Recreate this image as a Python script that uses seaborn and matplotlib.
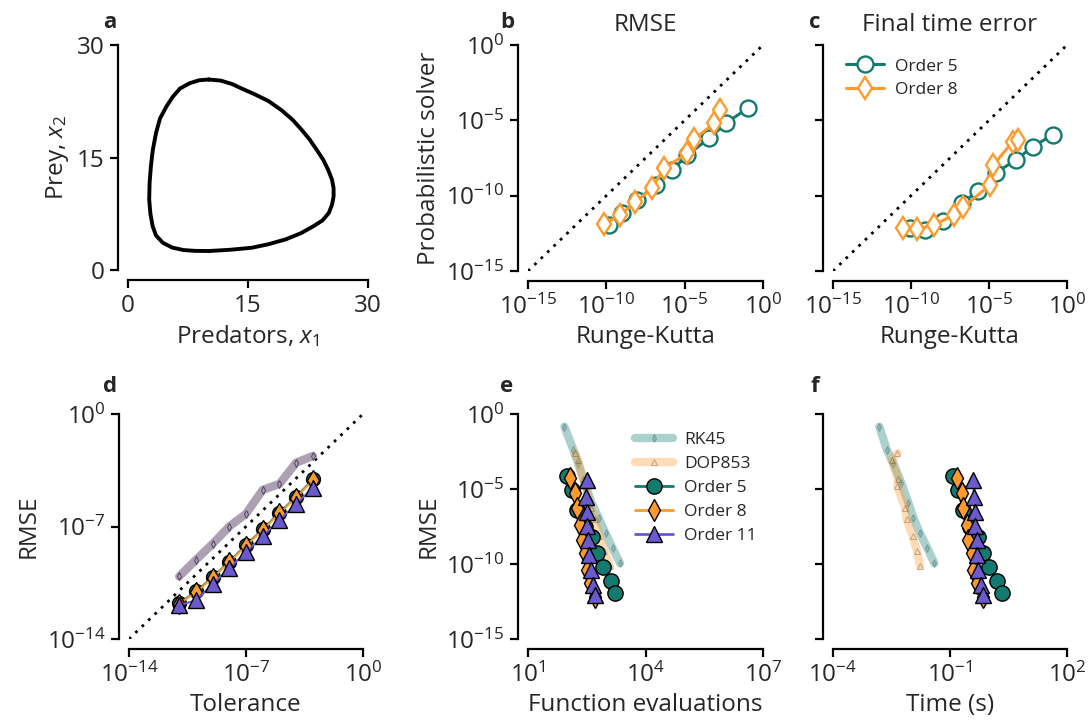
import numpy as np
import matplotlib
matplotlib.use("Agg")
import matplotlib.pyplot as plt
import seaborn as sns

sns.set_style("ticks")
plt.rcParams['font.family'] = ['Open Sans', 'DejaVu Sans']
plt.rcParams['mathtext.fontset'] = 'custom'
plt.rcParams['mathtext.rm'] = 'Open Sans'
plt.rcParams['mathtext.it'] = 'Open Sans:italic'

TEAL = "#137a70"
ORANGE = "#ff9a2e"
PURPLE = "#6a5acd"
MAUVE = "#a090a6"

# panel a: predator-prey orbit
orbit_x = [10.1, 11.6, 13.0, 14.2, 15.9, 17.6, 19.2, 20.6, 21.7, 22.7, 23.6, 24.4, 25.0, 25.5,
           25.7, 25.7, 25.5, 25.1, 24.3, 23.2, 21.6, 19.7, 17.6, 15.5, 12.8, 10.1, 8.4, 6.92,
           5.5, 4.36, 3.5, 3.08, 2.8, 2.65, 2.7, 2.86, 3.1, 3.5, 4.0, 4.8, 5.6, 6.5, 7.7, 8.9, 10.1]
orbit_y = [25.4, 25.25, 24.8, 24.2, 23.4, 22.5, 21.3, 20.0, 18.7, 17.4, 16.0, 14.7, 13.4, 12.05,
           10.9, 9.8, 8.7, 7.6, 6.6, 5.85, 4.9, 4.08, 3.45, 2.97, 2.7, 2.53, 2.55, 2.66,
           3.0, 3.63, 4.6, 5.85, 7.5, 9.4, 11.6, 13.8, 16.0, 18.25, 20.2, 21.8, 23.1, 24.2, 24.9, 25.3, 25.4]

# panel b: RMSE, Runge-Kutta vs probabilistic solver (log10 values)
b_o5_x = [-9.85, -9.0, -8.03, -6.86, -5.79, -4.83, -3.44, -2.37, -0.98]
b_o5_y = [-11.94, -11.17, -10.29, -9.29, -8.29, -7.3, -6.19, -5.19, -4.2]
b_o8_x = [-10.17, -9.1, -8.14, -7.07, -6.33, -4.83, -4.4, -3.12, -2.74]
b_o8_y = [-11.88, -11.28, -10.4, -9.51, -8.18, -7.19, -6.26, -5.2, -4.31]

# panel c: final time error (log10 values)
c_o5_x = [-10.06, -9.1, -7.97, -6.75, -5.68, -4.55, -3.27, -2.2, -0.92]
c_o5_y = [-12.16, -12.28, -11.68, -10.5, -9.67, -8.47, -7.63, -6.75, -5.97]
c_o8_x = [-10.53, -9.6, -8.53, -7.24, -6.65, -4.94, -4.72, -3.48, -3.12]
c_o8_y = [-12.16, -12.23, -11.94, -11.28, -10.77, -9.29, -7.96, -6.42, -6.3]

# panel d: RMSE vs tolerance (log10 values)
tolerance = [-11, -10, -9, -8, -7, -6, -5, -4, -3]
d_rk_y = [-10.11, -9.08, -8.08, -7.0, -6.21, -4.72, -4.35, -3.03, -2.61]
d_o5_y = [-11.77, -11.04, -10.15, -9.18, -8.14, -7.17, -6.13, -5.14, -4.06]
d_o8_y = [-11.8, -11.1, -10.2, -9.22, -8.2, -7.22, -6.18, -5.2, -4.12]
d_o11_y = [-11.9, -11.6, -10.6, -9.6, -8.6, -7.6, -6.6, -5.6, -4.6]

# panels e/f: work-precision (log10 values)
rk45_rmse = [-0.85, -2.4, -3.3, -4.6, -5.9, -6.9, -7.95, -8.95, -9.95]
rk45_nfev = [1.93, 2.16, 2.28, 2.45, 2.62, 2.8, 2.98, 3.16, 3.35]
rk45_time = [-2.81, -2.62, -2.45, -2.25, -2.07, -1.94, -1.77, -1.58, -1.40]
dop_rmse = [-2.62, -3.07, -4.35, -4.8, -6.29, -7.02, -8.13, -9.11, -10.13]
dop_nfev = [2.2, 2.28, 2.4, 2.47, 2.6, 2.7, 2.82, 2.95, 3.09]
dop_time = [-2.35, -2.5, -2.33, -2.35, -2.15, -2.11, -1.96, -1.85, -1.77]
o5_rmse = [-4.13, -5.07, -6.4, -7.51, -8.18, -9.29, -10.18, -11.13, -11.91]
o5_nfev = [1.99, 2.12, 2.26, 2.46, 2.63, 2.75, 2.92, 3.12, 3.22]
o5_time = [-0.92, -0.79, -0.66, -0.49, -0.27, -0.15, 0.01, 0.2, 0.34]
o8_rmse = [-4.29, -5.29, -6.29, -7.4, -8.4, -9.29, -10.4, -11.29, -12.18]
o8_nfev = [2.07, 2.2, 2.24, 2.33, 2.37, 2.46, 2.51, 2.58, 2.71]
o8_time = [-0.83, -0.7, -0.66, -0.57, -0.53, -0.44, -0.4, -0.32, -0.15]
o11_rmse = [-4.4, -5.51, -6.51, -7.47, -8.4, -9.4, -10.4, -11.4, -12.07]
o11_nfev = [2.5, 2.48, 2.51, 2.51, 2.54, 2.57, 2.61, 2.67, 2.71]
o11_time = [-0.4, -0.38, -0.36, -0.36, -0.32, -0.3, -0.27, -0.21, -0.16]


def p10(v):
    return 10.0 ** np.asarray(v, dtype=float)


def line(ax, x, y, **kw):
    sns.lineplot(x=x, y=y, ax=ax, sort=False, estimator=None, **kw)


fig = plt.figure(figsize=(10.89, 7.25), dpi=100)
W, H = 1089, 725


def axes_px(x0, x1, y_top, y_bot):
    return fig.add_axes([x0 / W, 1 - y_bot / H, (x1 - x0) / W, (y_bot - y_top) / H])


ax_a = axes_px(128, 368, 45, 270)
ax_b = axes_px(528, 763, 45, 271)
ax_c = axes_px(833, 1067, 45, 271)
ax_d = axes_px(129, 363, 414, 639)
ax_e = axes_px(528, 763, 414, 639)
ax_f = axes_px(833, 1067, 414, 639)

FS = 17.5
LFS = 12.5

# ---- a
line(ax_a, orbit_x, orbit_y, color="black", linewidth=2.8)
ax_a.set_xlim(0, 30)
ax_a.set_ylim(0, 30)
ax_a.set_xticks([0, 15, 30])
ax_a.set_yticks([0, 15, 30])
ax_a.set_xlabel("Predators, $x_1$", fontsize=FS)
ax_a.set_ylabel("Prey, $x_2$", fontsize=FS)

open_kw = dict(markerfacecolor="white", markersize=11.5, markeredgewidth=1.7, linewidth=2.2)

# ---- b
ax_b.plot([1e-15, 1], [1e-15, 1], color="black", linestyle=(0, (1, 2.2)), linewidth=2)
line(ax_b, p10(b_o5_x), p10(b_o5_y), color=TEAL, marker="o", markeredgecolor=TEAL, **open_kw)
line(ax_b, p10(b_o8_x), p10(b_o8_y), color=ORANGE, marker="d", markeredgecolor=ORANGE, **open_kw)
ax_b.set_title("RMSE", fontsize=FS, pad=10)
ax_b.set_xlabel("Runge-Kutta", fontsize=FS)
ax_b.set_ylabel("Probabilistic solver", fontsize=FS)

# ---- c
ax_c.plot([1e-15, 1], [1e-15, 1], color="black", linestyle=(0, (1, 2.2)), linewidth=2)
line(ax_c, p10(c_o5_x), p10(c_o5_y), color=TEAL, marker="o", markeredgecolor=TEAL,
     label="Order 5", **open_kw)
line(ax_c, p10(c_o8_x), p10(c_o8_y), color=ORANGE, marker="d", markeredgecolor=ORANGE,
     label="Order 8", **open_kw)
ax_c.set_title("Final time error", fontsize=FS, pad=10)
ax_c.set_xlabel("Runge-Kutta", fontsize=FS)
ax_c.legend(loc="upper left", bbox_to_anchor=(-0.01, 1.01), frameon=False, fontsize=LFS,
            handlelength=2.2, labelspacing=0.45, handletextpad=0.6)

for ax in (ax_b, ax_c):
    ax.set_xscale("log")
    ax.set_yscale("log")
    ax.set_xlim(1e-15, 1)
    ax.set_ylim(1e-15, 1)
    ax.set_xticks([1e-15, 1e-10, 1e-5, 1])
    ax.set_yticks([1e-15, 1e-10, 1e-5, 1])
    ax.minorticks_off()
ax_c.set_yticklabels([])

# ---- d
ax_d.plot([1e-14, 1], [1e-14, 1], color="black", linestyle=(0, (1, 2.2)), linewidth=2)
line(ax_d, p10(tolerance), p10(d_rk_y), color=MAUVE, alpha=0.85, linewidth=6,
     marker="d", markersize=4, markeredgecolor="#4a3a55", markerfacecolor="none")
line(ax_d, p10(tolerance), p10(d_o5_y), color=TEAL, marker="o", markersize=10,
     markeredgecolor="black", markeredgewidth=1, linewidth=1.5)
line(ax_d, p10(tolerance), p10(d_o8_y), color=ORANGE, marker="d", markersize=10,
     markeredgecolor="black", markeredgewidth=1, linewidth=1.5)
line(ax_d, p10(tolerance), p10(d_o11_y), color=PURPLE, marker="^", markersize=11,
     markeredgecolor="black", markeredgewidth=1, linewidth=1.5)
ax_d.set_xscale("log")
ax_d.set_yscale("log")
ax_d.set_xlim(1e-14, 1)
ax_d.set_ylim(1e-14, 1)
ax_d.set_xticks([1e-14, 1e-7, 1])
ax_d.set_yticks([1e-14, 1e-7, 1])
ax_d.minorticks_off()
ax_d.set_xlabel("Tolerance", fontsize=FS)
ax_d.set_ylabel("RMSE", fontsize=FS)

# ---- e / f


def work_precision(ax, rk_x, dop_x, x5, x8, x11, with_legend):
    line(ax, p10(rk_x), p10(rk45_rmse), color=TEAL, alpha=0.35, linewidth=6, marker="d",
         markersize=4, markeredgecolor="#2f5f5a", markerfacecolor="#5a8a85", label="RK45")
    line(ax, p10(dop_x), p10(dop_rmse), color=ORANGE, alpha=0.35, linewidth=6, marker="^",
         markersize=4, markeredgecolor="#5a3a20", markerfacecolor="none", label="DOP853")
    line(ax, p10(x5), p10(o5_rmse), color=TEAL, marker="o", markersize=11,
         markeredgecolor="black", markeredgewidth=1, linewidth=2, label="Order 5")
    line(ax, p10(x8), p10(o8_rmse), color=ORANGE, marker="d", markersize=11,
         markeredgecolor="black", markeredgewidth=1, linewidth=2, label="Order 8")
    line(ax, p10(x11), p10(o11_rmse), color=PURPLE, marker="^", markersize=11,
         markeredgecolor="black", markeredgewidth=1, linewidth=2, label="Order 11")
    ax.set_xscale("log")
    ax.set_yscale("log")
    ax.set_ylim(1e-15, 1)
    ax.set_yticks([1e-15, 1e-10, 1e-5, 1])
    ax.minorticks_off()
    if with_legend:
        ax.legend(loc="upper left", bbox_to_anchor=(0.39, 0.99), frameon=False, fontsize=LFS,
                  handlelength=2.2, labelspacing=0.45, handletextpad=0.6)
    elif ax.get_legend() is not None:
        ax.get_legend().remove()


work_precision(ax_e, rk45_nfev, dop_nfev, o5_nfev, o8_nfev, o11_nfev, True)
ax_e.set_xlim(10, 1e7)
ax_e.set_xticks([1e1, 1e4, 1e7])
ax_e.minorticks_off()
ax_e.set_xlabel("Function evaluations", fontsize=FS)
ax_e.set_ylabel("RMSE", fontsize=FS)

work_precision(ax_f, rk45_time, dop_time, o5_time, o8_time, o11_time, False)
ax_f.set_xlim(1e-4, 1e2)
ax_f.set_xticks([1e-4, 1e-1, 1e2])
ax_f.minorticks_off()
ax_f.set_yticklabels([])
ax_f.set_xlabel("Time (s)", fontsize=FS)

for ax in (ax_a, ax_b, ax_c, ax_d, ax_e, ax_f):
    sns.despine(ax=ax, offset=7)
    ax.tick_params(labelsize=FS, width=1.6, length=6, color="black", pad=4)
    for s in ("left", "bottom"):
        ax.spines[s].set_linewidth(1.6)
        ax.spines[s].set_color("black")
    ax.grid(False)

letters = [("a", 110, 22), ("b", 507, 22), ("c", 815, 22),
           ("d", 110, 386), ("e", 507, 386), ("f", 815, 386)]
for t, x, y in letters:
    fig.text(x / W, 1 - y / H, t, fontsize=16, fontweight="bold", ha="center", va="center")

fig.savefig("out.png", dpi=100, facecolor="white")
